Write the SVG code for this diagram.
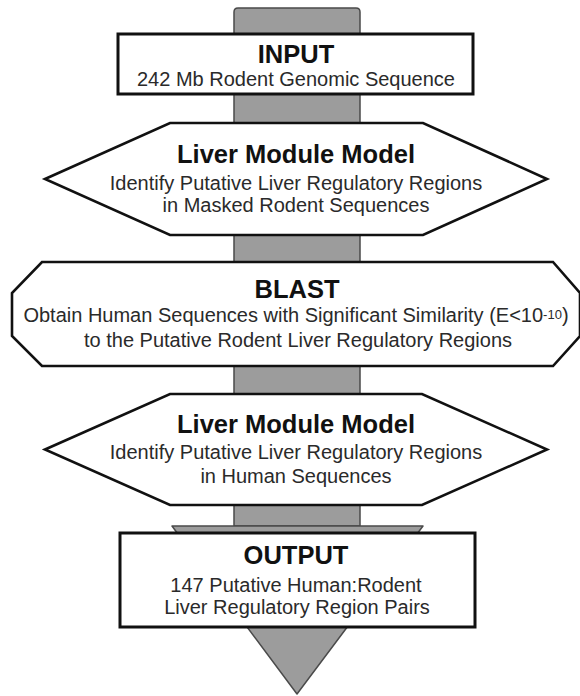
<svg xmlns="http://www.w3.org/2000/svg" width="580" height="696" viewBox="0 0 580 696">
<style>
.bg{fill:#ffffff}
.flow{fill:#9c9c9c;stroke:#4a4a4a;stroke-width:1.5;stroke-linejoin:round}
.box{fill:#ffffff;stroke:#111111;stroke-width:3}
.hex{fill:#ffffff;stroke:#111111;stroke-width:2.6;stroke-linejoin:miter}
.title{font-family:"Liberation Sans",Arial,sans-serif;font-weight:bold;font-size:25.5px;fill:#111111;text-anchor:middle}
.sub{font-family:"Liberation Sans",Arial,sans-serif;font-size:20px;fill:#2a2a2a;text-anchor:middle}
.sup{font-size:13px}
</style>
<rect class="bg" x="0" y="0" width="580" height="696"/>
<g id="connectors">
  <path class="flow" d="M234,526 L234,12 Q234,8 238,8 L356,8 Q360,8 360,12 L360,526 Z"/>
  <polygon class="flow" points="172,526 423,526 297,694"/>
</g>
<g id="input">
  <rect class="box" x="118" y="34" width="355" height="60"/>
  <text class="title" x="296" y="63">INPUT</text>
  <text class="sub" x="296" y="86">242 Mb Rodent Genomic Sequence</text>
</g>
<g id="liver-model-rodent">
  <polygon class="hex" points="45,179 170,123 423,123 547,179 423,235 170,235"/>
  <text class="title" x="296" y="163">Liver Module Model</text>
  <text class="sub" x="296" y="190">Identify Putative Liver Regulatory Regions</text>
  <text class="sub" x="296" y="212">in Masked Rodent Sequences</text>
</g>
<g id="blast">
  <polygon class="hex" points="42,262 553,262 580,293 580,336 553,366 42,366 12,336 12,293"/>
  <text class="title" x="297" y="298">BLAST</text>
  <text class="sub" x="296" y="322">Obtain Human Sequences with Significant Similarity (E&lt;10<tspan class="sup" dy="-3">-10</tspan><tspan dy="3">)</tspan></text>
  <text class="sub" x="298" y="347">to the Putative Rodent Liver Regulatory Regions</text>
</g>
<g id="liver-model-human">
  <polygon class="hex" points="45,449.5 170,394 422,394 547,449.5 422,505 170,505"/>
  <text class="title" x="296" y="433">Liver Module Model</text>
  <text class="sub" x="296" y="459">Identify Putative Liver Regulatory Regions</text>
  <text class="sub" x="296" y="483">in Human Sequences</text>
</g>
<g id="output">
  <rect class="box" x="120" y="533" width="355" height="94"/>
  <text class="title" x="296" y="564">OUTPUT</text>
  <text class="sub" x="296" y="592">147 Putative Human:Rodent</text>
  <text class="sub" x="297" y="614">Liver Regulatory Region Pairs</text>
</g>
</svg>
